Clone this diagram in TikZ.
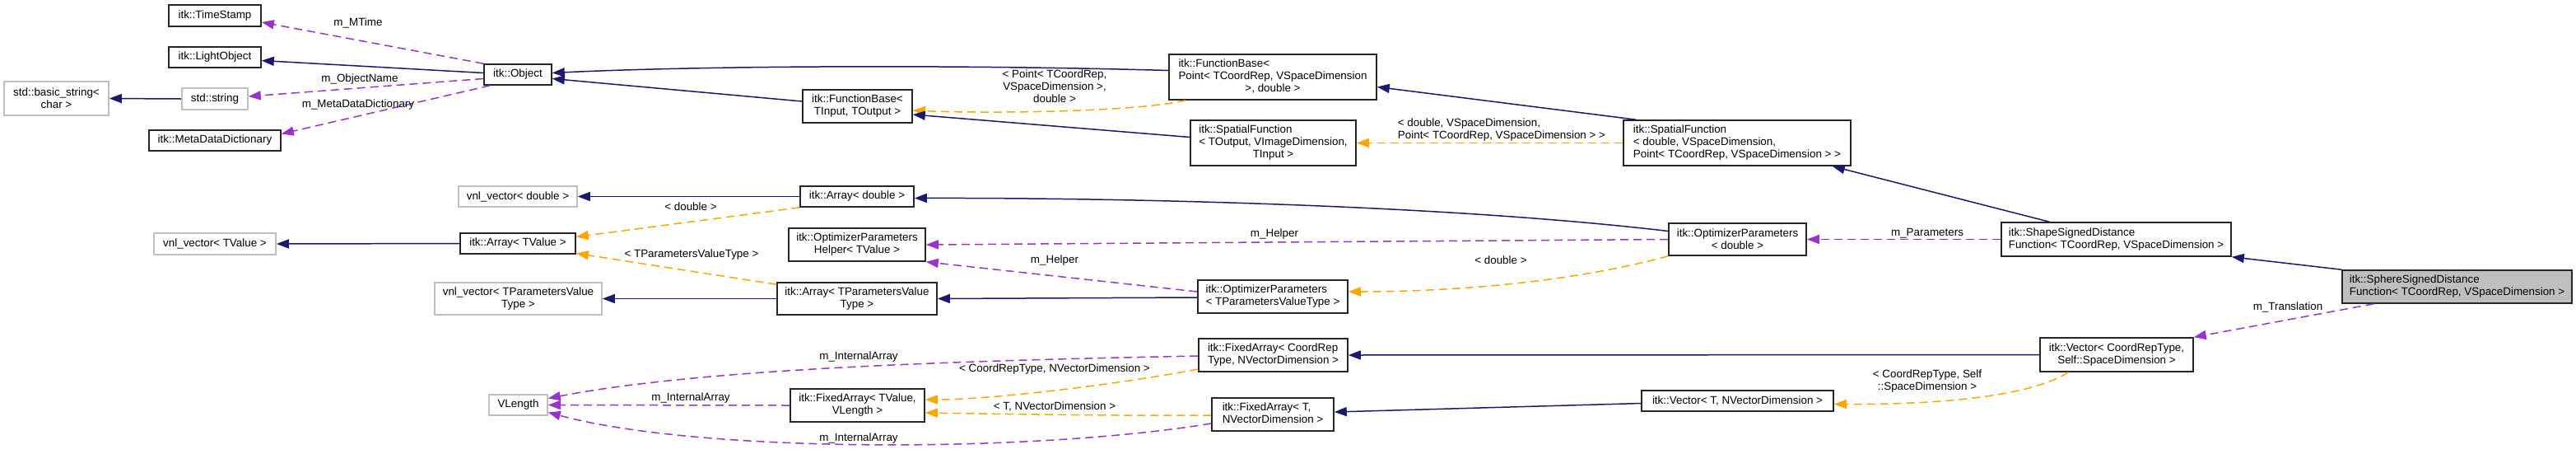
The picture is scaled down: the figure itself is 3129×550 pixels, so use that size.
\documentclass[tikz,border=0pt]{standalone}
\usepackage{fontspec}
\setmainfont{Liberation Sans}
\usetikzlibrary{arrows.meta,calc}
\definecolor{dblue}{HTML}{191970}
\definecolor{dpurple}{HTML}{9A32CD}
\definecolor{dorange}{HTML}{FFA500}
\definecolor{lgray}{HTML}{BFBFBF}
\newcommand{\myctr}[1]{\multicolumn{1}{@{}c@{}}{#1}}
\newcommand{\mylt}[1]{\begin{tabular}{@{}l@{}}#1\end{tabular}}
\begin{document}
\begin{tikzpicture}[x=1pt,y=-1pt,font=\fontsize{13.4}{15}\selectfont,
  box/.style={draw=black!85,line width=1.6pt,inner sep=0pt,align=center,fill=white},
  ubox/.style={box,draw=lgray},
  tipA/.style={-{Triangle[length=15pt,width=11pt]}},
  inh/.style={draw=dblue,line width=1.5pt,tipA},
  use/.style={draw=dpurple,line width=1.5pt,dash pattern=on 10pt off 6pt,tipA},
  tpl/.style={draw=dorange,line width=1.5pt,dash pattern=on 10pt off 6pt,tipA},
  lbl/.style={inner sep=0pt,align=center}]
\useasboundingbox (0,0) rectangle (3129,550);
% nodes
\node[box,minimum width=112pt,minimum height=26pt] (ts) at (261,19) {itk::TimeStamp};
\node[box,minimum width=112pt,minimum height=25pt] (lo) at (261,69.5) {itk::LightObject};
\node[ubox,minimum width=127pt,minimum height=41pt] (bs) at (68.5,119.5) {std::basic\_string<\\char >};
\node[ubox,minimum width=80pt,minimum height=26pt] (ss) at (261,120) {std::string};
\node[box,minimum width=160pt,minimum height=25pt] (mdd) at (261,170.5) {itk::MetaDataDictionary};
\node[box,minimum width=82pt,minimum height=25pt] (obj) at (629,90.5) {itk::Object};
\node[box,minimum width=133pt,minimum height=40pt] (fb) at (1041.5,129) {itk::FunctionBase<\\TInput, TOutput >};
\node[box,minimum width=252pt,minimum height=55pt] (fbp) at (1546,93.5) {\mylt{itk::FunctionBase<\\\myctr{Point< TCoordRep, VSpaceDimension}\\\myctr{>, double >}}};
\node[box,minimum width=201pt,minimum height=55pt] (sfo) at (1546.5,173.5) {\mylt{itk::SpatialFunction\\< TOutput, VImageDimension,\\\myctr{TInput >}}};
\node[box,minimum width=276pt,minimum height=55pt,align=left] (sfd) at (2110,173.5) {itk::SpatialFunction\\< double, VSpaceDimension,\\Point< TCoordRep, VSpaceDimension > >};
\node[ubox,minimum width=144pt,minimum height=25pt] (vd) at (629,238.5) {vnl\_vector< double >};
\node[box,minimum width=138pt,minimum height=25pt] (ad) at (1041,238.5) {itk::Array< double >};
\node[ubox,minimum width=148pt,minimum height=26pt] (vt) at (261,296) {vnl\_vector< TValue >};
\node[box,minimum width=140pt,minimum height=25pt] (at) at (629,295.5) {itk::Array< TValue >};
\node[box,minimum width=166pt,minimum height=40pt] (oh) at (1041,297) {itk::OptimizerParameters\\Helper< TValue >};
\node[ubox,minimum width=203pt,minimum height=39pt] (vtp) at (629.5,362.5) {vnl\_vector< TParametersValue\\Type >};
\node[box,minimum width=194pt,minimum height=39pt] (atp) at (1041,362.5) {itk::Array< TParametersValue\\Type >};
\node[box,minimum width=182pt,minimum height=40pt,align=left] (opt) at (1546,360) {itk::OptimizerParameters\\< TParametersValueType >};
\node[box,minimum width=167pt,minimum height=39pt] (opd) at (2110.5,290.5) {itk::OptimizerParameters\\< double >};
\node[box,minimum width=279pt,minimum height=41pt,align=left] (shape) at (2570.5,290.5) {itk::ShapeSignedDistance\\Function< TCoordRep, VSpaceDimension >};
\node[box,fill=lgray,minimum width=279pt,minimum height=40pt,align=left] (sphere) at (2984.5,348) {itk::SphereSignedDistance\\Function< TCoordRep, VSpaceDimension >};
\node[box,minimum width=186pt,minimum height=41pt] (vc) at (2571,430.5) {itk::Vector< CoordRepType,\\Self::SpaceDimension >};
\node[box,minimum width=233pt,minimum height=25pt] (vtn) at (2110.5,486.5) {itk::Vector< T, NVectorDimension >};
\node[box,minimum width=181pt,minimum height=40pt,align=left] (fac) at (1546.5,431) {itk::FixedArray< CoordRep\\Type, NVectorDimension >};
\node[box,minimum width=148pt,minimum height=40pt] (fat) at (1546,503) {\mylt{itk::FixedArray< T,\\\myctr{NVectorDimension >}}};
\node[box,minimum width=163pt,minimum height=40pt] (fav) at (1041.5,492) {itk::FixedArray< TValue,\\VLength >};
\node[ubox,minimum width=71pt,minimum height=25pt] (vl) at (629.5,491.5) {VLength};
% edges
\draw[use] (obj.north west) -- ($(ts.east)+(0,8)$);
\draw[inh] ($(obj.west)+(0,-2)$) -- ($(lo.east)+(0,4)$);
\draw[use] ($(obj.west)+(0,5)$) -- ($(ss.east)+(0,-3)$);
\draw[inh] (ss.west) -- (bs.east);
\draw[use] ($(obj.south west)+(8,0)$) -- ($(mdd.east)+(0,-8)$);
\draw[inh] ($(fbp.west)+(0,-8)$) .. controls (1150,78) and (850,80) .. ($(obj.east)+(0,-2)$);
\draw[inh] ($(fb.west)+(0,-6)$) -- ($(obj.east)+(0,5)$);
\draw[tpl] ($(fbp.south west)+(21,0)$) .. controls (1380,136) and (1200,138) .. ($(fb.east)+(0,5)$);
\draw[inh] ($(sfo.west)+(0,-7)$) -- ($(fb.east)+(0,10)$);
\draw[inh] ($(sfd.north west)+(16,0)$) -- ($(fbp.east)+(0,12)$);
\draw[tpl] (sfd.west) -- (sfo.east);
\draw[inh] ($(shape.north west)+(59,0)$) -- ($(sfd.south east)+(-23,0)$);
\draw[inh] (ad.west) -- (vd.east);
\draw[tpl] (ad.south west) -- ($(at.east)+(0,-8)$);
\draw[inh] ($(opd.west)+(0,-10)$) .. controls (1750,248) and (1350,240) .. ($(ad.east)+(0,2)$);
\draw[inh] (at.west) -- (vt.east);
\draw[tpl] ($(atp.north west)+(0,3)$) -- ($(at.east)+(0,12)$);
\draw[use] (opd.west) -- (oh.east);
\draw[use] ($(opt.west)+(0,-6)$) -- (oh.south east);
\draw[inh] (atp.west) -- (vtp.east);
\draw[inh] ($(opt.west)+(0,1)$) -- (atp.east);
\draw[tpl] (opd.south west) .. controls (1900,345) and (1750,354) .. ($(opt.east)+(0,-6)$);
\draw[use] (shape.west) -- (opd.east);
\draw[inh] (sphere.north west) -- (shape.south east);
\draw[use] ($(sphere.south west)+(39,0)$) -- (vc.north east);
\draw[inh] (vc.west) -- (fac.east);
\draw[tpl] ($(vc.south west)+(35,0)$) .. controls (2460,485) and (2330,491) .. ($(vtn.east)+(0,4)$);
\draw[inh] ($(vtn.west)+(0,3)$) -- ($(fat.east)+(0,-3)$);
\draw[tpl] ($(fac.west)+(0,17)$) .. controls (1350,468) and (1200,485) .. ($(fav.east)+(0,-7)$);
\draw[tpl] ($(fat.west)+(0,1)$) .. controls (1350,505) and (1200,502) .. ($(fav.east)+(0,9)$);
\draw[use] ($(fac.west)+(0,1)$) .. controls (1150,438) and (850,448) .. ($(vl.east)+(0,-8)$);
\draw[use] (fav.west) -- (vl.east);
\draw[use] ($(fat.west)+(0,11)$) .. controls (1250,550) and (850,550) .. ($(vl.east)+(0,9)$);
% labels
\node[lbl] (l1) at (435,28) {m\_MTime};
\node[lbl] (l2) at (437,96) {m\_ObjectName};
\node[lbl] (l3) at (435,127) {m\_MetaDataDictionary};
\node[lbl] (l4) at (1281,105) {< Point< TCoordRep,\\VSpaceDimension >,\\double >};
\node[lbl,align=left] (l5) at (1824,157.5) {< double, VSpaceDimension,\\Point< TCoordRep, VSpaceDimension > >};
\node[lbl] (l6) at (839,251) {< double >};
\node[lbl] (l7) at (840,309) {< TParametersValueType >};
\node[lbl] (l8) at (1548,284) {m\_Helper};
\node[lbl] (l9) at (1281,316) {m\_Helper};
\node[lbl] (l10) at (1823,316) {< double >};
\node[lbl] (l11) at (2341,283) {m\_Parameters};
\node[lbl] (l12) at (2779,373) {m\_Translation};
\node[lbl] (l13) at (2341,463) {< CoordRepType, Self\\::SpaceDimension >};
\node[lbl] (l14) at (1043,433) {m\_InternalArray};
\node[lbl] (l15) at (1281,448) {< CoordRepType, NVectorDimension >};
\node[lbl] (l16) at (839,483) {m\_InternalArray};
\node[lbl] (l17) at (1281,493) {< T, NVectorDimension >};
\node[lbl] (l18) at (1043,532) {m\_InternalArray};
\end{tikzpicture}
\end{document}
